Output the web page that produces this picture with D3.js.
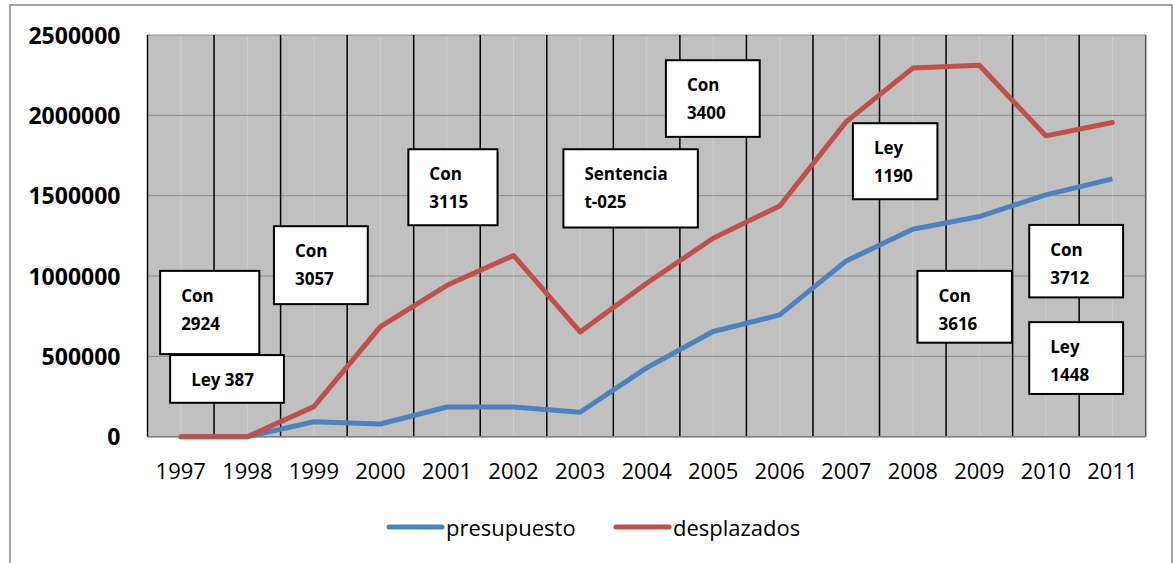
<!DOCTYPE html>
<html>
<head>
<meta charset="utf-8">
<script src="https://cdn.jsdelivr.net/npm/d3@7"></script>
<style>
  body { margin: 0; background: #fff; }
  text { font-family: "Open Sans", sans-serif; }
</style>
</head>
<body>
<div id="chart"></div>
<script>
var years = ["1997","1998","1999","2000","2001","2002","2003","2004","2005","2006","2007","2008","2009","2010","2011"];
var presupuesto = [0, 0, 93000, 79000, 185000, 185000, 152000, 428000, 655000, 758000, 1094000, 1291000, 1370000, 1505000, 1605000];
var desplazados = [0, 0, 187000, 685000, 942000, 1128000, 652000, 955000, 1235000, 1436000, 1961000, 2294000, 2312000, 1872000, 1955000];
var yTicks = [0, 500000, 1000000, 1500000, 2000000, 2500000];
var seriesNames = ["presupuesto", "desplazados"];

// annotation boxes: x0/x1 in category units, y0/y1 in data units
var notes = [
  {lines: ["Con", "2924"], x0: 0.19, x1: 1.68, y0: 1032000, y1: 514000},
  {lines: ["Ley 387"], x0: 0.34, x1: 2.05, y0: 508000, y1: 211000},
  {lines: ["Con", "3057"], x0: 1.90, x1: 3.31, y0: 1310000, y1: 825000},
  {lines: ["Con", "3115"], x0: 3.92, x1: 5.26, y0: 1789000, y1: 1316000},
  {lines: ["Sentencia", "t-025"], x0: 6.25, x1: 8.27, y0: 1789000, y1: 1302000},
  {lines: ["Con", "3400"], x0: 7.79, x1: 9.20, y0: 2343000, y1: 1866000},
  {lines: ["Ley", "1190"], x0: 10.60, x1: 11.87, y0: 1951000, y1: 1478000},
  {lines: ["Con", "3616"], x0: 11.57, x1: 12.99, y0: 1032000, y1: 585000},
  {lines: ["Con", "3712"], x0: 13.25, x1: 14.66, y0: 1318000, y1: 867000},
  {lines: ["Ley", "1448"], x0: 13.25, x1: 14.66, y0: 713000, y1: 266000}
];

var colors = {presupuesto: "#4f81bd", desplazados: "#c0504d"};

var svg = d3.select("#chart").append("svg")
  .attr("width", 1174)
  .attr("height", 563);

// outer frame
svg.append("rect")
  .attr("x", 10).attr("y", 5)
  .attr("width", 1162).attr("height", 580)
  .attr("fill", "none")
  .attr("stroke", "#a6a6a6")
  .attr("stroke-width", 2);

var plotLeft = 147.5, plotRight = 1145.7, plotTop = 35, plotBottom = 436.7;

var x = d3.scaleBand().domain(years).range([plotLeft, plotRight]).padding(0);
var xi = d3.scaleLinear().domain([0, years.length]).range([plotLeft, plotRight]);
var y = d3.scaleLinear().domain([0, 2500000]).range([plotBottom, plotTop]);

// plot background
svg.append("rect")
  .attr("x", plotLeft).attr("y", plotTop)
  .attr("width", plotRight - plotLeft).attr("height", plotBottom - plotTop)
  .attr("fill", "#c0c0c0");

// minor vertical gridlines (category centres)
svg.append("g").selectAll("line").data(years).enter().append("line")
  .attr("x1", function(d){ return x(d) + x.bandwidth()/2; })
  .attr("x2", function(d){ return x(d) + x.bandwidth()/2; })
  .attr("y1", plotTop).attr("y2", plotBottom)
  .attr("stroke", "#cdcdcd")
  .attr("stroke-width", 1);

// horizontal gridlines
svg.append("g").selectAll("line").data(yTicks).enter().append("line")
  .attr("x1", plotLeft).attr("x2", plotRight)
  .attr("y1", function(d){ return y(d); })
  .attr("y2", function(d){ return y(d); })
  .attr("stroke", "#8c8c8c")
  .attr("stroke-width", 1);

// major vertical gridlines (category boundaries)
var bounds = d3.range(years.length + 1);
svg.append("g").selectAll("line").data(bounds).enter().append("line")
  .attr("x1", function(d){ return xi(d); })
  .attr("x2", function(d){ return xi(d); })
  .attr("y1", plotTop).attr("y2", plotBottom)
  .attr("stroke", function(d){ return d == years.length ? "#555" : "#000"; })
  .attr("stroke-width", 1.5);

// bottom axis line
svg.append("line")
  .attr("x1", plotLeft).attr("x2", plotRight)
  .attr("y1", plotBottom).attr("y2", plotBottom)
  .attr("stroke", "#7f7f7f")
  .attr("stroke-width", 1.5);

// y axis labels
var yAxis = svg.append("g")
  .attr("transform", "translate(" + (plotLeft - 27) + ",0)")
  .call(d3.axisLeft(y).tickValues(yTicks).tickSize(0).tickFormat(d3.format("d")));
yAxis.select(".domain").remove();
yAxis.selectAll("text")
  .attr("x", 0)
  .attr("dy", "0.36em")
  .style("font-family", "'Open Sans', sans-serif")
  .style("font-size", "23px")
  .style("font-weight", "bold")
  .attr("fill", "#000");

// x axis labels
var xAxis = svg.append("g")
  .attr("transform", "translate(0," + plotBottom + ")")
  .call(d3.axisBottom(x).tickSize(0));
xAxis.select(".domain").remove();
xAxis.selectAll("text")
  .attr("y", 42)
  .attr("dy", 0)
  .style("font-family", "'Open Sans', sans-serif")
  .style("font-size", "22px")
  .attr("fill", "#000");

// lines
var line = d3.line()
  .x(function(d, i){ return x(years[i]) + x.bandwidth()/2; })
  .y(function(d){ return y(d); });

svg.append("path").datum(presupuesto)
  .attr("d", line)
  .attr("fill", "none")
  .attr("stroke", colors.presupuesto)
  .attr("stroke-width", 5)
  .attr("stroke-linejoin", "round");

svg.append("path").datum(desplazados)
  .attr("d", line)
  .attr("fill", "none")
  .attr("stroke", colors.desplazados)
  .attr("stroke-width", 5)
  .attr("stroke-linejoin", "round")
  .attr("stroke-linecap", "round");

// annotation boxes
var note = svg.append("g").selectAll("g").data(notes).enter().append("g")
  .attr("transform", function(d){ return "translate(" + xi(d.x0) + "," + y(d.y0) + ")"; });
note.append("rect")
  .attr("width", function(d){ return xi(d.x1) - xi(d.x0); })
  .attr("height", function(d){ return y(d.y1) - y(d.y0); })
  .attr("fill", "#fff")
  .attr("stroke", "#000")
  .attr("stroke-width", 2);
note.selectAll("text").data(function(d){ return d.lines; }).enter().append("text")
  .attr("x", 21)
  .attr("y", function(d, i){ return 31 + i * 28; })
  .style("font-size", "17px")
  .style("font-weight", "bold")
  .text(function(d){ return d; });

// legend
var legend = svg.append("g").selectAll("g").data(seriesNames).enter().append("g")
  .attr("transform", function(d, i){ return "translate(" + (389 + i * 227) + ",527)"; });
legend.append("line")
  .attr("x1", 0).attr("x2", 53)
  .attr("stroke", function(d){ return colors[d]; })
  .attr("stroke-width", 5)
  .attr("stroke-linecap", "round");
legend.append("text")
  .attr("x", 57)
  .attr("y", 9)
  .style("font-size", "22px")
  .text(function(d){ return d; });
</script>
</body>
</html>
